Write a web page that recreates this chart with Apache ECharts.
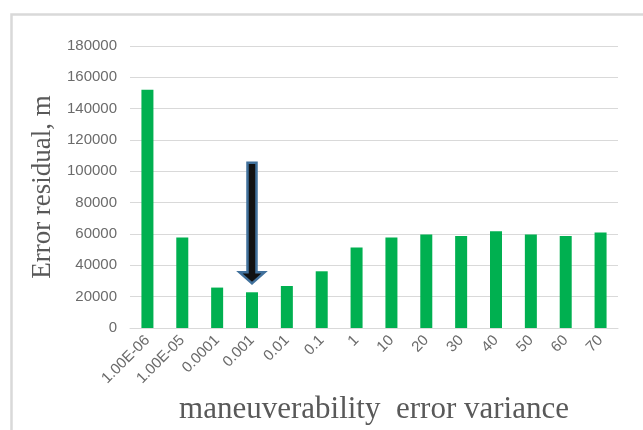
<!DOCTYPE html>
<html>
<head>
<meta charset="utf-8">
<script src="https://cdn.jsdelivr.net/npm/echarts@6/dist/echarts.min.js"></script>
<style>html,body{margin:0;padding:0;background:#fff}#c{width:643px;height:430px}</style>
</head>
<body>
<div id="c"></div>
<script>
const categories = ['1.00E-06','1.00E-05','0.0001','0.001','0.01','0.1','1','10','20','30','40','50','60','70'];
const residuals = [152000, 57800, 25800, 22800, 26800, 36200, 51400, 57800, 59700, 58800, 61800, 59700, 58800, 61000];
const yTicks = [0, 20000, 40000, 60000, 80000, 100000, 120000, 140000, 160000, 180000];
const arrowCategory = '0.001';
const arrowTop = 105500;
const arrowTip = 28500;

const chart = echarts.init(document.getElementById('c'), null, {renderer: 'canvas'});
chart.setOption({
  backgroundColor: '#ffffff',
  animation: false,
  graphic: [{
    type: 'rect', left: 9, top: 12, z: -10,
    shape: {width: 800, height: 600},
    style: {fill: 'none', stroke: '#D9D9D9', lineWidth: 2.5}
  }],
  grid: {left: 130, right: 25, top: 46, bottom: 102},
  xAxis: {
    type: 'category',
    data: categories,
    name: 'maneuverability  error variance',
    nameLocation: 'middle',
    nameGap: 66,
    nameTextStyle: {fontFamily: 'Liberation Serif', fontSize: 31, color: '#595959'},
    axisLine: {lineStyle: {color: '#D9D9D9', width: 1}},
    axisTick: {show: false},
    axisLabel: {rotate: 45, margin: 10, fontFamily: 'Liberation Sans', fontSize: 15, color: '#6b6b6b', interval: 0}
  },
  yAxis: {
    type: 'value',
    min: yTicks[0],
    max: yTicks[yTicks.length - 1],
    interval: yTicks[1] - yTicks[0],
    name: 'Error residual, m',
    nameLocation: 'middle',
    nameGap: 73,
    nameTextStyle: {fontFamily: 'Liberation Serif', fontSize: 27, color: '#595959'},
    axisLine: {show: false},
    axisTick: {show: false},
    splitLine: {lineStyle: {color: '#D9D9D9', width: 1}},
    axisLabel: {margin: 13, fontFamily: 'Liberation Sans', fontSize: 15, color: '#6b6b6b',
      formatter: function (v) { return String(v); }}
  },
  series: [{
    type: 'bar',
    data: residuals,
    barWidth: 12,
    itemStyle: {color: '#00B050'}
  }, {
    type: 'custom',
    data: [[arrowCategory, arrowTop, arrowTip]],
    encode: {x: 0, y: [1, 2]},
    z: 10,
    renderItem: function (params, api) {
      const top = api.coord([api.value(0), api.value(1)]);
      const tip = api.coord([api.value(0), api.value(2)]);
      const cx = top[0];
      const sw = 4.5, hw = 12.5, hh = 11;
      const neck = tip[1] - hh;
      return {
        type: 'polygon',
        shape: {points: [
          [cx - sw, top[1]], [cx + sw, top[1]], [cx + sw, neck], [cx + hw, neck],
          [cx, tip[1]], [cx - hw, neck], [cx - sw, neck]
        ]},
        style: {fill: '#111111', stroke: '#41719C', lineWidth: 2.5}
      };
    }
  }]
});
</script>
</body>
</html>
